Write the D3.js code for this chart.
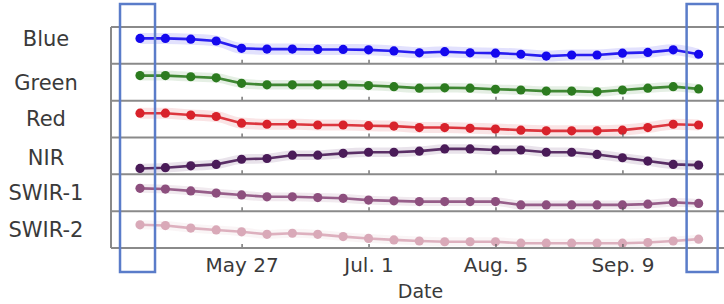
<!DOCTYPE html>
<html>
<head>
<meta charset="utf-8">
<script src="https://cdn.jsdelivr.net/npm/d3@7"></script>
<style>
  body { margin: 0; background: #fff; }
  svg { display: block; font-family: "DejaVu Sans", sans-serif; }
</style>
</head>
<body>
<div class="chart"></div>
<script>
// Weekly acquisition dates
var dates = ["2017-04-29", "2017-05-06", "2017-05-13", "2017-05-20", "2017-05-27",
  "2017-06-03", "2017-06-10", "2017-06-17", "2017-06-24", "2017-07-01",
  "2017-07-08", "2017-07-15", "2017-07-22", "2017-07-29", "2017-08-05",
  "2017-08-12", "2017-08-19", "2017-08-26", "2017-09-02", "2017-09-09",
  "2017-09-16", "2017-09-23", "2017-09-30"];

var bands = ["Blue", "Green", "Red", "NIR", "SWIR-1", "SWIR-2"];

// normalised values (0 = bottom of the band's row, 1 = top)
var blueValues = [0.69, 0.69, 0.67, 0.62, 0.42, 0.40, 0.40, 0.39, 0.39, 0.38, 0.35, 0.30,
  0.33, 0.30, 0.29, 0.26, 0.21, 0.24, 0.24, 0.29, 0.31, 0.38, 0.26];
var greenValues = [0.68, 0.68, 0.65, 0.62, 0.47, 0.43, 0.43, 0.43, 0.43, 0.41, 0.38, 0.34,
  0.35, 0.34, 0.31, 0.29, 0.26, 0.26, 0.24, 0.29, 0.34, 0.38, 0.32];
var redValues = [0.66, 0.66, 0.61, 0.57, 0.39, 0.36, 0.36, 0.34, 0.34, 0.32, 0.31, 0.27,
  0.27, 0.25, 0.23, 0.20, 0.18, 0.18, 0.18, 0.20, 0.27, 0.36, 0.34];
var nirValues = [0.16, 0.18, 0.23, 0.27, 0.41, 0.43, 0.52, 0.52, 0.57, 0.60, 0.60, 0.63,
  0.69, 0.69, 0.66, 0.66, 0.60, 0.60, 0.54, 0.45, 0.36, 0.27, 0.25];
var swir1Values = [0.62, 0.60, 0.55, 0.49, 0.44, 0.39, 0.39, 0.37, 0.35, 0.30, 0.28, 0.26,
  0.26, 0.26, 0.26, 0.17, 0.17, 0.17, 0.17, 0.17, 0.19, 0.24, 0.21];
var swir2Values = [0.63, 0.61, 0.54, 0.49, 0.44, 0.37, 0.40, 0.37, 0.31, 0.26, 0.22, 0.19,
  0.17, 0.17, 0.17, 0.13, 0.13, 0.13, 0.13, 0.13, 0.15, 0.19, 0.24];

// half width of the shaded spread around each line
var spreadValues = [0.15, 0.13, 0.15, 0.13, 0.12, 0.12];

var tickDates = ["2017-05-27", "2017-07-01", "2017-08-05", "2017-09-09"];
var tickLabels = ["May 27", "Jul. 1", "Aug. 5", "Sep. 9"];
var xDomain = ["2017-04-21", "2017-10-07"];

var seriesValues = [blueValues, greenValues, redValues, nirValues, swir1Values, swir2Values];
var colors = ["#1408ee", "#2c7b1f", "#d8222b", "#4a1b58", "#8d4f7e", "#d9a9b8"];
var labelNudge = [-7, 0, -1, 2, 0, 0];

var svgWidth = 724;
var svgHeight = 304;

var margin = { top: 27, right: 0, bottom: 56, left: 111 };
var width = svgWidth - margin.left - margin.right;
var height = svgHeight - margin.top - margin.bottom;
var rowHeight = height / bands.length;

var parseDate = d3.timeParse("%Y-%m-%d");

var svg = d3.select(".chart")
  .append("svg")
  .attr("width", svgWidth)
  .attr("height", svgHeight);

var chartGroup = svg.append("g")
  .attr("transform", `translate(${margin.left}, ${margin.top})`);

// Step 1: scales
var xTimeScale = d3.scaleTime()
  .domain(xDomain.map(parseDate))
  .range([0, width]);

var rowScale = d3.scaleBand()
  .domain(bands)
  .range([0, height]);

var yLinearScale = d3.scaleLinear()
  .domain([0, 1])
  .range([rowHeight, 0]);

// Step 2: one row per band
bands.forEach(function(band, i) {
  var row = chartGroup.append("g")
    .attr("transform", `translate(0, ${rowScale(band)})`);

  var points = dates.map(function(d, j) {
    return { date: parseDate(d), value: seriesValues[i][j] };
  });

  // spread band
  var area = d3.area()
    .x(d => xTimeScale(d.date))
    .y0(d => yLinearScale(d.value - spreadValues[i]))
    .y1(d => yLinearScale(d.value + spreadValues[i]))
    .curve(d3.curveMonotoneX);

  row.append("path")
    .datum(points)
    .attr("d", area)
    .attr("fill", colors[i])
    .attr("opacity", 0.12);

  var line = d3.line()
    .x(d => xTimeScale(d.date))
    .y(d => yLinearScale(d.value));

  row.append("path")
    .datum(points)
    .attr("d", line)
    .attr("fill", "none")
    .attr("stroke", colors[i])
    .attr("stroke-width", 2.6)
    .attr("opacity", 0.9);

  row.selectAll("circle")
    .data(points)
    .enter()
    .append("circle")
    .attr("cx", d => xTimeScale(d.date))
    .attr("cy", d => yLinearScale(d.value))
    .attr("r", 4.6)
    .attr("fill", colors[i]);

  // small ticks sitting on each row's bottom line
  var rowAxis = d3.axisBottom(xTimeScale)
    .tickValues(tickDates.map(parseDate))
    .tickSizeInner(-4)
    .tickSizeOuter(0)
    .tickFormat("");

  var axisG = row.append("g")
    .attr("transform", `translate(0, ${rowHeight})`)
    .call(rowAxis);
  axisG.select(".domain").remove();
  axisG.selectAll(".tick line").attr("stroke", "#555").attr("stroke-width", 1.2);

  // row label
  svg.append("text")
    .attr("x", 46)
    .attr("y", margin.top + rowScale(band) + rowHeight / 2 + labelNudge[i])
    .attr("dy", "0.36em")
    .attr("text-anchor", "middle")
    .attr("font-size", 21)
    .attr("fill", "#3a3a3a")
    .text(band);
});

// Step 3: row separators and frame
chartGroup.selectAll(".sep")
  .data(d3.range(bands.length + 1))
  .enter()
  .append("line")
  .attr("class", "sep")
  .attr("x1", 0)
  .attr("x2", width)
  .attr("y1", d => d * rowHeight)
  .attr("y2", d => d * rowHeight)
  .attr("stroke", "#8a8a8a")
  .attr("stroke-width", 2);

chartGroup.append("line")
  .attr("x1", 0).attr("x2", 0)
  .attr("y1", 0).attr("y2", height)
  .attr("stroke", "#8a8a8a")
  .attr("stroke-width", 2);

// Step 4: date labels
var bottomAxis = d3.axisBottom(xTimeScale)
  .tickValues(tickDates.map(parseDate))
  .tickSize(0)
  .tickPadding(10)
  .tickFormat((d, i) => tickLabels[i]);

var xAxisG = chartGroup.append("g")
  .attr("transform", `translate(0, ${height})`)
  .call(bottomAxis);
xAxisG.select(".domain").remove();
xAxisG.selectAll("text")
  .attr("font-size", 20)
  .attr("font-family", "DejaVu Sans")
  .attr("fill", "#3a3a3a");

chartGroup.append("text")
  .attr("x", width / 2 + 3)
  .attr("y", height + 50)
  .attr("text-anchor", "middle")
  .attr("font-size", 19)
  .attr("fill", "#3a3a3a")
  .text("Date");

// Step 5: highlight boxes around first and last acquisitions
var boxPad = [[20, 15], [12, 19]];
[dates[0], dates[dates.length - 1]].forEach(function(d, i) {
  var cx = margin.left + xTimeScale(parseDate(d));
  svg.append("rect")
    .attr("x", cx - boxPad[i][0])
    .attr("y", 4)
    .attr("width", boxPad[i][0] + boxPad[i][1])
    .attr("height", 268)
    .attr("fill", "none")
    .attr("stroke", "#5a7cc9")
    .attr("stroke-width", 2.5);
});
</script>
</body>
</html>
